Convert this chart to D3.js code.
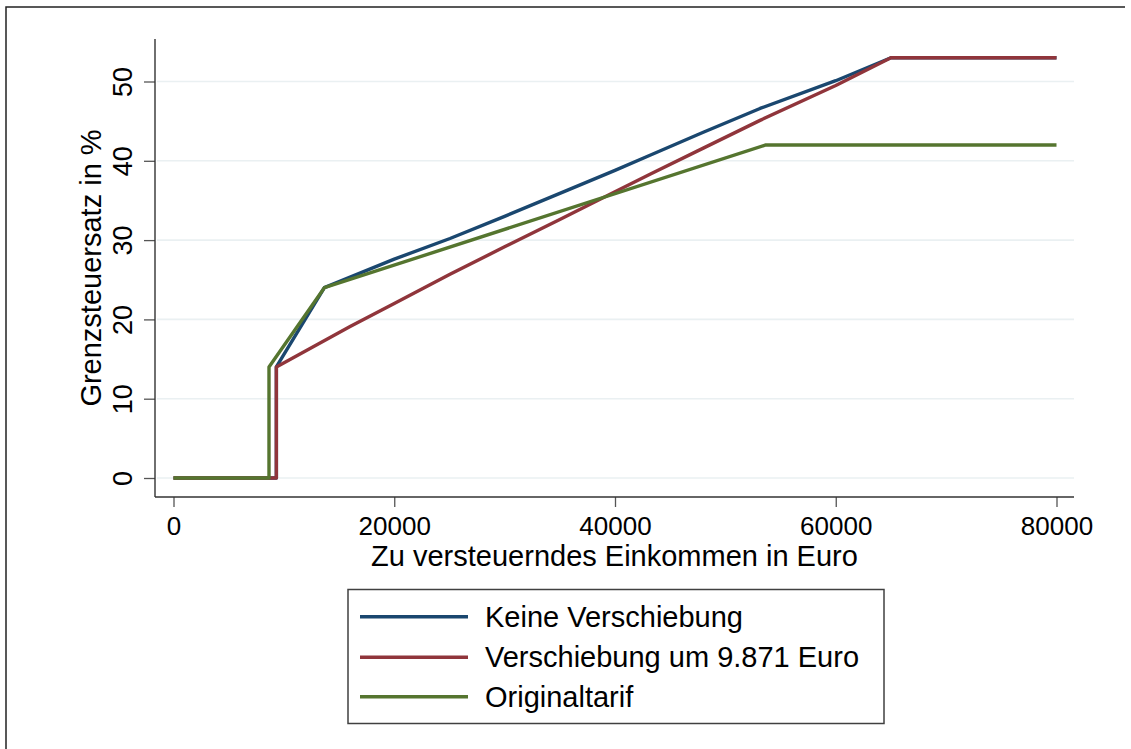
<!DOCTYPE html>
<html>
<head>
<meta charset="utf-8">
<script src="https://cdn.jsdelivr.net/npm/d3@7"></script>
<style>
  body { margin: 0; background: #fff; }
  text { font-family: "Liberation Sans", Arial, sans-serif; fill: #000; }
</style>
</head>
<body>
<div id="plot-container"></div>
<script>
// Grenzsteuersatz (%) nach zu versteuerndem Einkommen (Euro)
const incomeTicks = [0, 20000, 40000, 60000, 80000];
const rateTicks = [0, 10, 20, 30, 40, 50];

const seriesNames = ['Keine Verschiebung', 'Verschiebung um 9.871 Euro', 'Originaltarif'];
const seriesColors = ['#1a476f', '#90353b', '#55752f'];

const keineVerschiebung = [
  [0, 0], [9320, 0], [9320, 14], [13669, 24], [20000, 27.6], [25050, 30.2],
  [30000, 33.0], [35000, 35.9], [40000, 38.8], [43170, 40.7], [48000, 43.6],
  [53140, 46.6], [60000, 50.1], [65000, 53], [80000, 53]
];
const verschiebung = [
  [0, 0], [9320, 0], [9320, 14], [16000, 19.1], [20000, 22.0], [25050, 25.7],
  [30000, 29.15], [35000, 32.6], [40000, 36.1], [43170, 38.3], [48000, 41.6],
  [53140, 45.1], [60000, 49.5], [65000, 53], [80000, 53]
];
const originaltarif = [
  [0, 0], [8652, 0], [8652, 14], [13669, 24], [53665, 42], [80000, 42]
];
const seriesData = [keineVerschiebung, verschiebung, originaltarif];

const canvasWidth = 1131;
const canvasHeight = 749;
const plotLeft = 155, plotRight = 1074, plotTop = 39, plotBottom = 497;

const svg = d3.select('#plot-container')
  .append('svg')
  .attr('width', canvasWidth)
  .attr('height', canvasHeight);

// outer frame (only top and left edge visible)
svg.append('path')
  .attr('d', `M6,${canvasHeight} L6,7 L1125,7`)
  .attr('fill', 'none')
  .attr('stroke', '#222')
  .attr('stroke-width', 1.5);

const xScale = d3.scaleLinear().domain([0, 80000]).range([173.5, 1056.5]);
const yScale = d3.scaleLinear().domain([0, 50]).range([478, 81.5]);

// gridlines
svg.append('g')
  .selectAll('line')
  .data(rateTicks)
  .enter()
  .append('line')
  .attr('x1', plotLeft + 2)
  .attr('x2', plotRight)
  .attr('y1', d => yScale(d))
  .attr('y2', d => yScale(d))
  .attr('stroke', '#eaf0f2')
  .attr('stroke-width', 1.6);

// axes
const xAxis = d3.axisBottom(xScale).tickValues(incomeTicks).tickSize(10).tickPadding(10).tickFormat(d3.format('d'));
const yAxis = d3.axisLeft(yScale).tickValues(rateTicks).tickSize(11);

const gx = svg.append('g').attr('transform', `translate(0, ${plotBottom})`).call(xAxis);
gx.select('.domain').remove();
gx.selectAll('line').attr('stroke', '#555').attr('stroke-width', 1.3);
gx.selectAll('text').attr('font-size', 26).attr('font-family', '"Liberation Sans", Arial, sans-serif');

const gy = svg.append('g').attr('transform', `translate(${plotLeft}, 0)`).call(yAxis);
gy.select('.domain').remove();
gy.selectAll('line').attr('stroke', '#555').attr('stroke-width', 1.3);
gy.selectAll('text')
  .attr('x', null).attr('dy', null)
  .attr('text-anchor', 'middle')
  .attr('font-size', 27)
  .attr('font-family', '"Liberation Sans", Arial, sans-serif')
  .attr('transform', 'translate(-23, 0) rotate(-90)');

svg.append('line')
  .attr('x1', plotLeft).attr('x2', plotLeft)
  .attr('y1', plotTop).attr('y2', plotBottom)
  .attr('stroke', '#333').attr('stroke-width', 1.4);
svg.append('line')
  .attr('x1', plotLeft).attr('x2', plotRight)
  .attr('y1', plotBottom).attr('y2', plotBottom)
  .attr('stroke', '#333').attr('stroke-width', 1.4);

// axis titles
svg.append('text')
  .attr('x', (plotLeft + plotRight) / 2).attr('y', 566)
  .attr('text-anchor', 'middle').attr('font-size', 29)
  .text('Zu versteuerndes Einkommen in Euro');
svg.append('text')
  .attr('transform', `translate(101, ${(plotTop + plotBottom) / 2}) rotate(-90)`)
  .attr('text-anchor', 'middle').attr('font-size', 29)
  .text('Grenzsteuersatz in %');

// lines
const line = d3.line()
  .x(d => xScale(d[0]))
  .y(d => yScale(d[1]));

svg.append('g')
  .selectAll('path')
  .data(seriesData)
  .enter()
  .append('path')
  .attr('d', d => line(d))
  .attr('fill', 'none')
  .attr('stroke', (d, i) => seriesColors[i])
  .attr('stroke-width', 3.4)
  .attr('stroke-linejoin', 'round');

// legend
const legend = svg.append('g');
legend.append('rect')
  .attr('x', 348).attr('y', 589.5)
  .attr('width', 536).attr('height', 134)
  .attr('fill', '#fff').attr('stroke', '#404040').attr('stroke-width', 1.5);

const rowY = [616.7, 657.3, 696.7];
seriesNames.forEach((name, i) => {
  legend.append('line')
    .attr('x1', 360).attr('x2', 468)
    .attr('y1', rowY[i]).attr('y2', rowY[i])
    .attr('stroke', seriesColors[i]).attr('stroke-width', 3.4);
  legend.append('text')
    .attr('x', 485).attr('y', rowY[i] + 10)
    .attr('font-size', 29)
    .text(name);
});
</script>
</body>
</html>
